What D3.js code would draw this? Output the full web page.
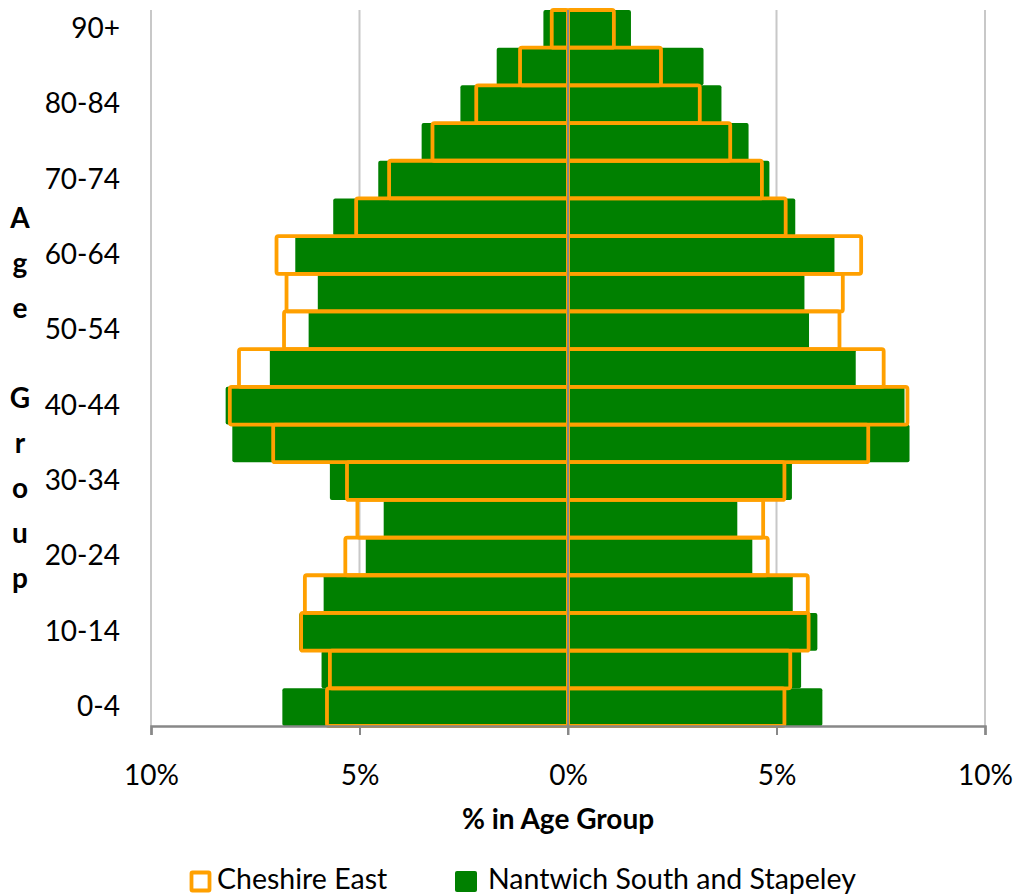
<!DOCTYPE html>
<html>
<head>
<meta charset="utf-8">
<script src="https://cdn.jsdelivr.net/npm/d3@7"></script>
<style>
  html, body { margin: 0; padding: 0; background: #fff; }
  svg { display: block; }
  text { font-family: Lato, "Open Sans", sans-serif; fill: #000; }
</style>
</head>
<body>
<svg id="chart" width="1014" height="896"></svg>
<script>
const ageGroups = ["0-4","5-9","10-14","15-19","20-24","25-29","30-34","35-39","40-44","45-49","50-54","55-59","60-64","65-69","70-74","75-79","80-84","85-89","90+"];
const tickAgeLabels = ["0-4","10-14","20-24","30-34","40-44","50-54","60-64","70-74","80-84","90+"];
// Nantwich South and Stapeley (green filled bars)
const nantwichLeft  = [6.85,5.91,6.45,5.86,4.85,4.42,5.71,8.05,8.21,7.15,6.22,6.00,6.54,5.63,4.55,3.51,2.58,1.71,0.59];
const nantwichRight = [6.10,5.59,5.98,5.39,4.42,4.06,5.37,8.19,8.07,6.90,5.78,5.67,6.39,5.45,4.83,4.33,3.68,3.25,1.51];
// Cheshire East (orange outline)
const cheshireLeft  = [5.78,5.71,6.40,6.31,5.34,5.05,5.30,7.07,8.11,7.89,6.81,6.75,6.99,5.08,4.29,3.25,2.20,1.15,0.39];
const cheshireRight = [5.19,5.33,5.77,5.75,4.79,4.68,5.19,7.20,8.14,7.57,6.51,6.59,7.03,5.22,4.65,3.89,3.16,2.23,1.10];
const xTickValues = [-10,-5,0,5,10];
const seriesNames = ["Cheshire East","Nantwich South and Stapeley"];

const svg = d3.select("#chart");
const plot = {left: 151, right: 985, top: 10, bottom: 726};
const x = d3.scaleLinear().domain([-10, 10]).range([plot.left, plot.right]);
const y = d3.scaleBand().domain(ageGroups.slice().reverse()).range([plot.top, plot.bottom]).padding(0);
const GREEN = "#008000", ORANGE = "#ffa000";

// gridlines
svg.append("g").selectAll("line").data(xTickValues.filter(d => d !== 0)).join("line")
  .attr("x1", d => x(d)).attr("x2", d => x(d))
  .attr("y1", plot.top).attr("y2", plot.bottom)
  .attr("stroke", "#c8c8c8").attr("stroke-width", 2);

// green bars
const rows = ageGroups.map((a, i) => ({a, nl: nantwichLeft[i], nr: nantwichRight[i], cl: cheshireLeft[i], cr: cheshireRight[i]}));
const gG = svg.append("g");
gG.selectAll("rect.nl").data(rows).join("rect")
  .attr("x", d => x(-d.nl)).attr("width", d => x(0) - x(-d.nl))
  .attr("y", d => y(d.a)).attr("height", y.bandwidth())
  .attr("rx", 2).attr("fill", GREEN);
gG.selectAll("rect.nr").data(rows).join("rect")
  .attr("x", x(0)).attr("width", d => x(d.nr) - x(0))
  .attr("y", d => y(d.a)).attr("height", y.bandwidth())
  .attr("rx", 2).attr("fill", GREEN);

// orange outlines
const gO = svg.append("g");
gO.selectAll("rect.cl").data(rows).join("rect")
  .attr("x", d => x(-d.cl)).attr("width", d => x(0) - x(-d.cl))
  .attr("y", d => y(d.a)).attr("height", y.bandwidth())
  .attr("rx", 2).attr("fill", "none").attr("stroke", ORANGE).attr("stroke-width", 3.8);
gO.selectAll("rect.cr").data(rows).join("rect")
  .attr("x", x(0)).attr("width", d => x(d.cr) - x(0))
  .attr("y", d => y(d.a)).attr("height", y.bandwidth())
  .attr("rx", 2).attr("fill", "none").attr("stroke", ORANGE).attr("stroke-width", 3.8);

// center line
svg.append("line").attr("x1", x(0)).attr("x2", x(0)).attr("y1", plot.top).attr("y2", plot.bottom + 9)
  .attr("stroke", "#888").attr("stroke-width", 2);

// x axis
const xAxis = d3.axisBottom(x).tickValues(xTickValues).tickSize(9).tickPadding(30)
  .tickFormat(d => Math.abs(d) + "%");
const gx = svg.append("g").attr("transform", `translate(0,${plot.bottom})`).call(xAxis);
gx.select(".domain").attr("stroke", "#888").attr("stroke-width", 2.5);
gx.selectAll(".tick line").attr("stroke", "#888").attr("stroke-width", 2);
gx.selectAll(".tick text").attr("font-size", 28).attr("font-family", "Lato").attr("fill", "#000").attr("dy", "0.71em").attr("y", 39);

// y axis labels
const yAxis = d3.axisLeft(y).tickValues(tickAgeLabels).tickSize(0).tickPadding(31);
const gy = svg.append("g").attr("transform", `translate(${plot.left},0)`).call(yAxis);
gy.select(".domain").remove();
gy.selectAll(".tick text").attr("font-size", 28).attr("font-family", "Lato").attr("fill", "#000");

// y title (stacked letters)
const yTitle = "Age Group".split("");
svg.append("g").selectAll("text").data(yTitle).join("text")
  .attr("x", 20).attr("y", (d, i) => 228 + i * 45)
  .attr("text-anchor", "middle").attr("font-size", 28).attr("font-weight", "bold")
  .text(d => d);

// x title
svg.append("text").attr("x", 558).attr("y", 829).attr("text-anchor", "middle")
  .attr("font-size", 28).attr("font-weight", "bold").text("% in Age Group");

// legend
const lg = svg.append("g");
lg.append("rect").attr("x", 191.5).attr("y", 872.5).attr("width", 18).attr("height", 18)
  .attr("fill", "#fff").attr("stroke", ORANGE).attr("stroke-width", 3.8).attr("rx", 1);
lg.append("text").attr("x", 217).attr("y", 889).attr("font-size", 28.5).text(seriesNames[0]);
lg.append("rect").attr("x", 455).attr("y", 871).attr("width", 22).attr("height", 21)
  .attr("fill", GREEN).attr("rx", 2);
lg.append("text").attr("x", 488).attr("y", 889).attr("font-size", 28.5).text(seriesNames[1]);
</script>
</body>
</html>
